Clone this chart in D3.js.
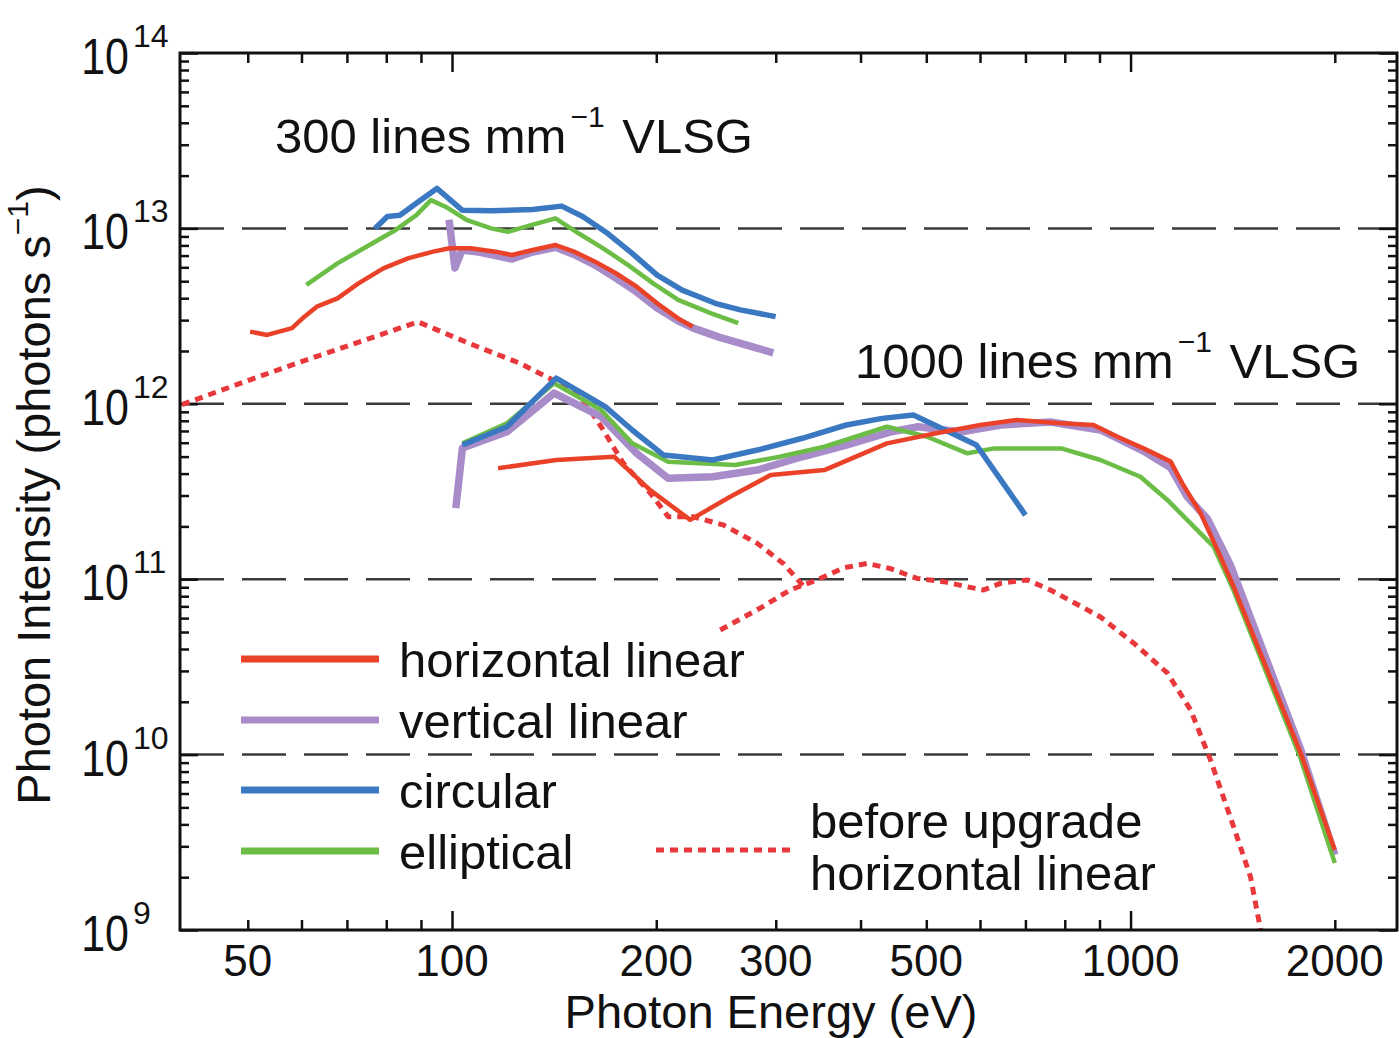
<!DOCTYPE html>
<html>
<head>
<meta charset="utf-8">
<script src="https://cdn.jsdelivr.net/npm/d3@7"></script>
<style>
  html, body { margin: 0; padding: 0; background: #fff; }
  svg text { font-family: "Liberation Sans", Arial, Helvetica, sans-serif; fill: #111; }
</style>
</head>
<body>
<div id="chart"></div>
<script>
// photon energy (eV), intensity (photons/s) -- 300 lines/mm grating
const hl300 = [[50.4,2.58e12],[53.4,2.47e12],[58.1,2.70e12],[60.6,3.14e12],[63.2,3.58e12],[67.8,3.99e12],[72.8,4.86e12],[79.2,5.92e12],[86.1,6.75e12],[93.8,7.37e12],[99.2,7.70e12],[106.5,7.70e12],[115.9,7.37e12],[122.6,7.05e12],[131.5,7.53e12],[142.1,8.04e12],[151.3,7.37e12],[162.5,6.46e12],[174.4,5.55e12],[187.1,4.65e12],[200.6,3.74e12],[215.4,3.07e12],[226.3,2.75e12]];
const vl300 = [[99.0,1.12e13],[101.0,5.95e12],[103.5,7.53e12],[110,7.3e12],[122.6,6.69e12],[131.5,7.33e12],[142.1,7.8e12],[151.3,7.1e12],[162.5,6.18e12],[174.4,5.21e12],[187.1,4.34e12],[200.6,3.52e12],[215.4,2.97e12],[226.3,2.71e12],[247.3,2.40e12],[277.5,2.11e12],[297.5,1.95e12]];
const circ300 = [[77.0,1.0e13],[80.3,1.17e13],[83.8,1.19e13],[88.6,1.39e13],[95.0,1.69e13],[103.5,1.27e13],[114.2,1.26e13],[131.5,1.28e13],[145.1,1.34e13],[155.8,1.17e13],[169.5,9.38e12],[184.3,7.21e12],[200.6,5.42e12],[218.4,4.45e12],[244.3,3.74e12],[266,3.43e12],[299.9,3.14e12]];
const ell300 = [[61.0,4.76e12],[67.8,6.32e12],[74.8,7.86e12],[82.6,9.8e12],[88.6,1.19e13],[93.1,1.45e13],[97.8,1.33e13],[105.0,1.12e13],[114.2,1.0e13],[120.9,9.57e12],[131.5,1.05e13],[142.1,1.14e13],[153.6,9.38e12],[167,7.7e12],[181.8,6.18e12],[197.9,4.86e12],[215.4,3.91e12],[241,3.28e12],[264.2,2.88e12]];

// 1000 lines/mm grating
const hl1000 = [[116.9,4.29e11],[142.4,4.78e11],[173.4,4.99e11],[195.9,3.22e11],[224.4,2.18e11],[257,2.95e11],[295,3.93e11],[353.8,4.19e11],[437.5,5.95e11],[516.8,6.79e11],[600.8,7.57e11],[679,8.09e11],[790.5,7.74e11],[881.9,7.57e11],[956,6.49e11],[1045,5.57e11],[1146,4.68e11],[1192,3.52e11],[1268,2.38e11],[1343,1.47e11],[1419,9.06e10],[1781,1.02e10],[2000,2.86e9]];
const vl1000 = [[101.3,2.54e11],[103.6,5.6e11],[120.5,6.93e11],[141.4,1.15e12],[165.9,8.44e11],[187.2,5.22e11],[208.3,3.76e11],[242.2,3.84e11],[281.8,4.19e11],[328.2,4.99e11],[381.1,5.82e11],[444.1,6.93e11],[486.8,7.40e11],[561.3,6.9e11],[643,7.57e11],[762,7.87e11],[903,7.09e11],[1045,5.38e11],[1146,4.31e11],[1213,2.94e11],[1299,2.2e11],[1404,1.2e11],[1781,1.07e10],[2000,2.68e9]];
const circ1000 = [[103.6,5.82e11],[120.5,7.40e11],[142.4,1.40e12],[168.2,9.63e11],[184.3,7.09e11],[204.8,5.11e11],[242.2,4.78e11],[281.8,5.45e11],[328.2,6.36e11],[381.1,7.57e11],[430.7,8.26e11],[478.6,8.63e11],[532.8,7.09e11],[592.7,5.82e11],[649.2,3.52e11],[700,2.32e11]];
const ell1000 = [[103.6,5.95e11],[120.5,7.74e11],[141.4,1.31e12],[165.9,9.22e11],[184.3,5.95e11],[208.3,4.68e11],[261.5,4.48e11],[304.1,4.99e11],[353.8,5.69e11],[437.5,7.40e11],[501.5,6.49e11],[574.8,5.22e11],[629.9,5.57e11],[790.5,5.57e11],[903.1,4.78e11],[1034,3.84e11],[1133,2.83e11],[1282,1.75e11],[1326,1.53e11],[1419,8.6e10],[1781,9.5e9],[2000,2.41e9]];

// before upgrade, horizontal linear (two gratings)
const beforeA = [[40,9.9e11],[50.4,1.37e12],[59.7,1.73e12],[70.7,2.16e12],[89.1,2.93e12],[106.3,2.2e12],[126,1.7e12],[138,1.42e12],[153.7,1.15e12],[165.9,7.40e11],[178.7,4.60e11],[195.9,3.10e11],[208.3,2.27e11],[226.7,2.27e11],[251,2.04e11],[281.8,1.60e11],[307.7,1.23e11],[331.6,8.9e10]];
const beforeB = [[248.5,5.13e10],[284.7,6.85e10],[315,8.68e10],[345,9.9e10],[377.4,1.16e11],[408.9,1.23e11],[442.6,1.15e11],[484.6,1.01e11],[529.9,9.68e10],[574.2,9.06e10],[607.5,8.68e10],[643,9.47e10],[704,9.9e10],[762,8.68e10],[903,6.09e10],[1010,4.33e10],[1133,2.92e10],[1226,1.80e10],[1312,9.3e9],[1419,3.87e9],[1503,2.0e9],[1555,1.0e9]];

const xTickLabels = [50, 100, 200, 300, 500, 1000, 2000];
const xMajorTicks = [100, 1000];
const yExponents = [9, 10, 11, 12, 13, 14];
const gridExponents = [10, 11, 12, 13];
const legendLabels = ["horizontal linear", "vertical linear", "circular", "elliptical"];

const W = 1399, H = 1038;
const m = { left: 180, right: 1397, top: 53, bottom: 930 };

const svg = d3.select("#chart").append("svg")
  .attr("width", W).attr("height", H);

const x = d3.scaleLog().domain([40, 2470]).range([182, m.right]);
const y = d3.scaleLog().domain([1e9, 1e14]).range([m.bottom, m.top]);

const colors = {
  red: "#ea4228",
  purple: "#a88cc9",
  blue: "#3a79c1",
  green: "#6cbd46",
  dotted: "#e8383c"
};

// minor tick values
const xMinor = [];
[10, 100, 1000].forEach(d => {
  for (let k = 1; k < 10; k++) {
    const v = d * k;
    if (v > 40 && v < 2470 && !xMajorTicks.includes(v)) xMinor.push(v);
  }
});
const yMinor = [];
for (let e = 9; e < 14; e++) for (let k = 2; k < 10; k++) yMinor.push(k * Math.pow(10, e));
const yMajor = yExponents.map(e => Math.pow(10, e));

// dashed grid lines
svg.append("g").selectAll("line")
  .data(gridExponents)
  .enter().append("line")
  .attr("x1", m.left).attr("x2", m.right)
  .attr("y1", d => y(Math.pow(10, d))).attr("y2", d => y(Math.pow(10, d)))
  .attr("stroke", "#3a3a3a")
  .attr("stroke-width", 2.5)
  .attr("stroke-dasharray", "44,18");

// axes ticks (inward)
function tickAxis(axis, transform) {
  const g = svg.append("g").attr("transform", transform).call(axis);
  g.select(".domain").remove();
  g.selectAll(".tick line").attr("stroke", "#111").attr("stroke-width", 2.5);
  g.selectAll("text").remove();
  return g;
}
tickAxis(d3.axisBottom(x).tickValues(xMinor).tickSize(-10).tickFormat(""), `translate(0,${m.bottom})`);
tickAxis(d3.axisBottom(x).tickValues(xMajorTicks).tickSize(-19).tickFormat(""), `translate(0,${m.bottom})`);
tickAxis(d3.axisTop(x).tickValues(xMinor).tickSize(-10).tickFormat(""), `translate(0,${m.top})`);
tickAxis(d3.axisTop(x).tickValues(xMajorTicks).tickSize(-19).tickFormat(""), `translate(0,${m.top})`);
tickAxis(d3.axisLeft(y).tickValues(yMinor).tickSize(-9).tickFormat(""), `translate(${m.left},0)`);
tickAxis(d3.axisLeft(y).tickValues(yMajor).tickSize(-18).tickFormat(""), `translate(${m.left},0)`);
tickAxis(d3.axisRight(y).tickValues(yMinor).tickSize(-9).tickFormat(""), `translate(${m.right},0)`);
tickAxis(d3.axisRight(y).tickValues(yMajor).tickSize(-18).tickFormat(""), `translate(${m.right},0)`);

// x tick labels
svg.append("g").selectAll("text")
  .data(xTickLabels)
  .enter().append("text")
  .attr("x", d => x(d))
  .attr("y", m.bottom + 46)
  .attr("text-anchor", "middle")
  .style("font-size", "44px")
  .text(d => d);

// y tick labels 10^n
const yl = svg.append("g").selectAll("g")
  .data(yExponents)
  .enter().append("g")
  .attr("transform", d => `translate(0,${y(Math.pow(10, d))})`);
yl.append("text")
  .attr("transform", "translate(129,21) scale(1,1.18)")
  .attr("text-anchor", "end")
  .style("font-size", "43px")
  .text("10");
yl.append("text")
  .attr("x", 133).attr("y", -6)
  .style("font-size", "32px")
  .text(d => d);

// curves
svg.append("clipPath").attr("id", "plotclip")
  .append("rect").attr("x", m.left).attr("y", m.top)
  .attr("width", m.right - m.left).attr("height", m.bottom - m.top);

const line = d3.line().x(d => x(d[0])).y(d => y(d[1]));
const plot = svg.append("g").attr("clip-path", "url(#plotclip)");

function drawSeries(data, color, width, dash) {
  plot.append("path")
    .datum(data)
    .attr("d", line)
    .attr("fill", "none")
    .attr("stroke", color)
    .attr("stroke-width", width)
    .attr("stroke-linejoin", "round")
    .attr("stroke-dasharray", dash || null);
}

drawSeries(beforeA, colors.dotted, 5, "8,6");
drawSeries(beforeB, colors.dotted, 5, "8,6");
drawSeries(vl300, colors.purple, 7.5);
drawSeries(vl1000, colors.purple, 7.5);
drawSeries(ell300, colors.green, 4.5);
drawSeries(ell1000, colors.green, 4.5);
drawSeries(circ300, colors.blue, 5.5);
drawSeries(circ1000, colors.blue, 5.5);
drawSeries(hl300, colors.red, 4.5);
drawSeries(hl1000, colors.red, 4.5);

// frame
svg.append("rect")
  .attr("x", m.left).attr("y", m.top)
  .attr("width", m.right - m.left).attr("height", m.bottom - m.top)
  .attr("fill", "none").attr("stroke", "#111").attr("stroke-width", 3);

// grating annotations
function supLabel(tx, ty, pre, sup, post) {
  const t = svg.append("text").attr("x", tx).attr("y", ty).style("font-size", "49px");
  t.append("tspan").text(pre);
  t.append("tspan").attr("dx", 4).attr("dy", -26).style("font-size", "30px").text(sup);
  t.append("tspan").attr("dx", 4).attr("dy", 26).text(post);
  return t;
}
supLabel(275, 153, "300 lines mm", "\u22121", " VLSG");
supLabel(855, 378, "1000 lines mm", "\u22121", " VLSG");

// legend
const legendColors = [colors.red, colors.purple, colors.blue, colors.green];
const legendY = [659, 720, 790, 851];
const lg = svg.append("g");
legendLabels.forEach((lab, i) => {
  lg.append("line")
    .attr("x1", 241).attr("x2", 379)
    .attr("y1", legendY[i]).attr("y2", legendY[i])
    .attr("stroke", legendColors[i])
    .attr("stroke-width", 7);
  lg.append("text")
    .attr("x", 399).attr("y", legendY[i] + 18)
    .style("font-size", "49px")
    .text(lab);
});
lg.append("line")
  .attr("x1", 656).attr("x2", 790)
  .attr("y1", 850).attr("y2", 850)
  .attr("stroke", colors.dotted)
  .attr("stroke-width", 5)
  .attr("stroke-dasharray", "8,6");
lg.append("text").attr("x", 810).attr("y", 838).style("font-size", "49px").text("before upgrade");
lg.append("text").attr("x", 810).attr("y", 890).style("font-size", "49px").text("horizontal linear");

// axis titles
svg.append("text")
  .attr("x", 771)
  .attr("y", 1028)
  .attr("text-anchor", "middle")
  .style("font-size", "47px")
  .text("Photon Energy (eV)");

const yt = svg.append("text")
  .attr("transform", "translate(50,495) rotate(-90)")
  .attr("text-anchor", "middle")
  .style("font-size", "47px");
yt.append("tspan").text("Photon Intensity (photons s");
yt.append("tspan").attr("dy", -22).style("font-size", "30px").text("\u22121");
yt.append("tspan").attr("dy", 22).text(")");
</script>
</body>
</html>
